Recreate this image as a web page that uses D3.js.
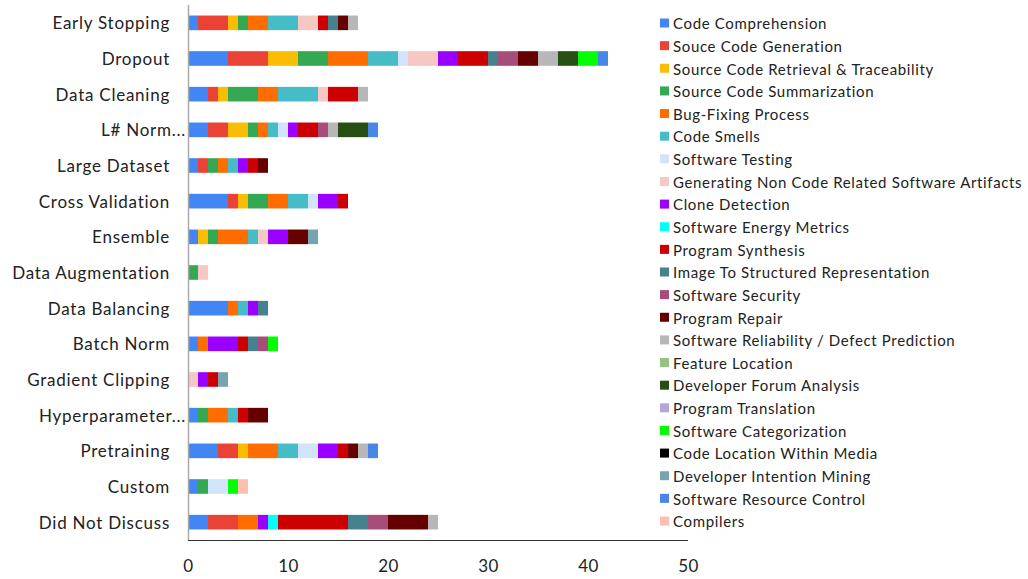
<!DOCTYPE html>
<html><head><meta charset="utf-8">
<script src="https://cdn.jsdelivr.net/npm/d3@7"></script>
<style>body{margin:0;background:#fff}svg{display:block}text{font-family:Lato,"Open Sans",sans-serif;fill:#222}</style>
</head><body><svg id="c" width="1028" height="579"></svg>
<script>
const categories = ["Early Stopping","Dropout","Data Cleaning","L# Norm...","Large Dataset","Cross Validation","Ensemble","Data Augmentation","Data Balancing","Batch Norm","Gradient Clipping","Hyperparameter...","Pretraining","Custom","Did Not Discuss"];
const seriesNames = ["Code Comprehension","Souce Code Generation","Source Code Retrieval & Traceability","Source Code Summarization","Bug-Fixing Process","Code Smells","Software Testing","Generating Non Code Related Software Artifacts","Clone Detection","Software Energy Metrics","Program Synthesis","Image To Structured Representation","Software Security","Program Repair","Software Reliability / Defect Prediction","Feature Location","Developer Forum Analysis","Program Translation","Software Categorization","Code Location Within Media","Developer Intention Mining","Software Resource Control","Compilers"];
const seriesColors = ["#4285F4","#EA4335","#FBBC04","#34A853","#FF6D01","#46BDC6","#D2E3FC","#F6C7C3","#9900FF","#00FFFF","#CC0000","#45818E","#A64D79","#660000","#B7B7B7","#93C47D","#274E13","#B4A7D6","#00FF00","#000000","#76A5AF","#4A86E8","#FFBFB0"];
// one row per category, one value per series (same order as seriesNames)
const values = [
  [1,3,1,1,2,3,0,2,0,0,1,1,0,1,1,0,0,0,0,0,0,0,0],
  [4,4,3,3,4,3,1,3,2,0,3,1,2,2,2,0,2,0,2,0,0,1,0],
  [2,1,1,3,2,4,0,1,0,0,3,0,0,0,1,0,0,0,0,0,0,0,0],
  [2,2,2,1,1,1,1,0,1,0,2,0,1,0,1,0,3,0,0,0,0,1,0],
  [1,1,0,1,1,1,0,0,1,0,1,0,0,1,0,0,0,0,0,0,0,0,0],
  [4,1,1,2,2,2,1,0,2,0,1,0,0,0,0,0,0,0,0,0,0,0,0],
  [1,0,1,1,3,1,0,1,2,0,0,0,0,2,0,0,0,0,0,0,1,0,0],
  [0,0,0,1,0,0,0,1,0,0,0,0,0,0,0,0,0,0,0,0,0,0,0],
  [4,0,0,0,1,1,0,0,1,0,0,1,0,0,0,0,0,0,0,0,0,0,0],
  [1,0,0,0,1,0,0,0,3,0,1,1,1,0,0,0,0,0,1,0,0,0,0],
  [0,0,0,0,0,0,0,1,1,0,1,0,0,0,0,0,0,0,0,0,1,0,0],
  [1,0,0,1,2,1,0,0,0,0,1,0,0,2,0,0,0,0,0,0,0,0,0],
  [3,2,1,0,3,2,2,0,2,0,1,0,0,1,1,0,0,0,0,0,0,1,0],
  [1,0,0,1,0,0,2,0,0,0,0,0,0,0,0,0,0,0,1,0,0,0,1],
  [2,3,0,0,2,0,0,0,1,1,7,2,2,4,1,0,0,0,0,0,0,0,0]
];
const xTicks = [0,10,20,30,40,50];

const svg = d3.select("#c");
const m = {left:188, right:688, top:5, bottom:540};
const x = d3.scaleLinear().domain([0,50]).range([m.left, m.right]);
const y = d3.scaleBand().domain(categories).range([m.top, m.bottom]).paddingInner(0.59).paddingOuter(0.295);

const table = categories.map((c,i)=>{const o={cat:c}; seriesNames.forEach((s,j)=>o[s]=values[i][j]); return o;});
const stack = d3.stack().keys(seriesNames)(table);

const g = svg.append("g");
stack.forEach((layer,j)=>{
  g.selectAll(null).data(layer.filter(d=>d[1]>d[0])).join("rect")
    .attr("x", d=>x(d[0])).attr("width", d=>x(d[1])-x(d[0]))
    .attr("y", d=>y(d.data.cat)).attr("height", y.bandwidth())
    .attr("fill", seriesColors[j]);
});

// left axis line
svg.append("line").attr("x1",m.left+0.5).attr("x2",m.left+0.5).attr("y1",m.top).attr("y2",m.bottom)
  .attr("stroke","#aaa").attr("stroke-width",1.5);
// bottom axis line
svg.append("line").attr("x1",m.left).attr("x2",m.right).attr("y1",m.bottom+0.5).attr("y2",m.bottom+0.5)
  .attr("stroke","#333").attr("stroke-width",1);

// x tick labels
const xa = d3.axisBottom(x).tickValues(xTicks).tickSize(0).tickPadding(0);
const xg = svg.append("g").attr("transform",`translate(0,${m.bottom})`).call(xa);
xg.select(".domain").remove();
xg.selectAll("text").attr("y",26).attr("dy","0.35em").style("font-size","17px").style("fill","#222").style("font-family","Lato,sans-serif").style("letter-spacing","0.5px");

// category labels
const ya = d3.axisLeft(y).tickSize(0).tickPadding(0);
const yg = svg.append("g").attr("transform",`translate(${m.left-18},1)`).call(ya);
yg.select(".domain").remove();
yg.selectAll("text").style("font-size","17px").style("fill","#222").style("font-family","Lato,sans-serif")
  .style("letter-spacing","0.75px")
  .attr("dx", d=>d.endsWith("...")?16:0);

// legend
const lg = svg.append("g");
const ly = d3.scalePoint().domain(seriesNames).range([23,521]);
seriesNames.forEach((s,j)=>{
  lg.append("rect").attr("x",660).attr("y",ly(s)-4.5).attr("width",9).attr("height",9).attr("fill",seriesColors[j]);
  lg.append("text").attr("x",673).attr("y",ly(s)+1).attr("dy","0.35em").style("font-size","15px")
    .style("letter-spacing","0.65px").text(s);
});
</script></body></html>
